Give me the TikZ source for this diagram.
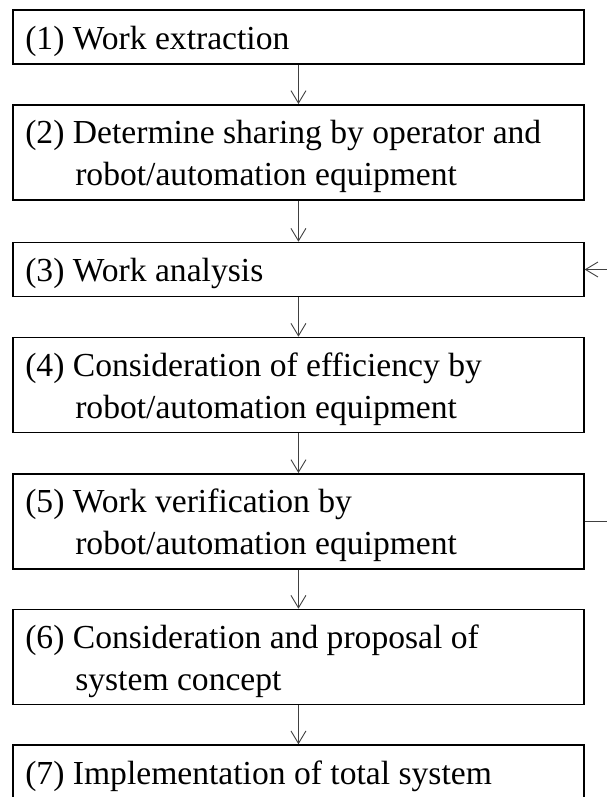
\documentclass[tikz,border=0pt]{standalone}
\usepackage{fontspec}
\setmainfont{Liberation Serif}
\usetikzlibrary{arrows.meta}
\begin{document}
\begin{tikzpicture}[x=1pt, y=-1pt,
  stage/.style={draw=black, line width=1.6pt, minimum width=570.7pt,
                inner sep=0pt, anchor=north west},
  onerow/.style={stage, minimum height=54pt},
  tworow/.style={stage, minimum height=95pt},
  txt/.style={anchor=base west, inner sep=0pt, font=\fontsize{33.6}{42}\selectfont},
  flow/.style={draw=black!75, line width=0.9pt,
               -{Straight Barb[length=12.5pt,width=15pt]}}]
  \useasboundingbox (0,0) rectangle (607,797);
  \clip (0,0) rectangle (607,797);

  % process boxes
  \node[onerow] (b1) at (12.3,9.3)   {};
  \node[tworow] (b2) at (12.3,104)   {};
  \node[onerow] (b3) at (12.3,241.7) {};
  \node[tworow] (b4) at (12.3,336.7) {};
  \node[tworow] (b5) at (12.3,473)   {};
  \node[tworow] (b6) at (12.3,608.7) {};
  \node[onerow] (b7) at (12.3,744.3) {};

  % box texts
  \newcommand{\tworows}[2]{\begin{tabular}[t]{@{}l@{}}#1\\\hspace*{50pt}#2\end{tabular}}
  \node[txt] (t1) at ([xshift=12.8pt,yshift=-39.8pt]b1.north west) {(1) Work extraction};
  \node[txt] (t2) at ([xshift=12.8pt,yshift=-39.8pt]b2.north west)
    {\tworows{(2) Determine sharing by operator and}{robot/automation equipment}};
  \node[txt] (t3) at ([xshift=12.8pt,yshift=-39.8pt]b3.north west) {(3) Work analysis};
  \node[txt] (t4) at ([xshift=12.8pt,yshift=-39.8pt]b4.north west)
    {\tworows{(4) Consideration of efficiency by}{robot/automation equipment}};
  \node[txt] (t5) at ([xshift=12.8pt,yshift=-39.8pt]b5.north west)
    {\tworows{(5) Work verification by}{robot/automation equipment}};
  \node[txt] (t6) at ([xshift=12.8pt,yshift=-39.8pt]b6.north west)
    {\tworows{(6) Consideration and proposal of}{system concept}};
  \node[txt] (t7) at ([xshift=12.8pt,yshift=-39.8pt]b7.north west) {(7) Implementation of total system};

  % main flow
  \draw[flow] (b1.south) -- (b2.north);
  \draw[flow] (b2.south) -- (b3.north);
  \draw[flow] (b3.south) -- (b4.north);
  \draw[flow] (b4.south) -- (b5.north);
  \draw[flow] (b5.south) -- (b6.north);
  \draw[flow] (b6.south) -- (b7.north);

  % feedback loop from verification back to analysis
  \coordinate (loop) at (640,0);
  \draw[flow] (b5.east) -- (b5.east -| loop) |- (b3.east);
\end{tikzpicture}
\end{document}
